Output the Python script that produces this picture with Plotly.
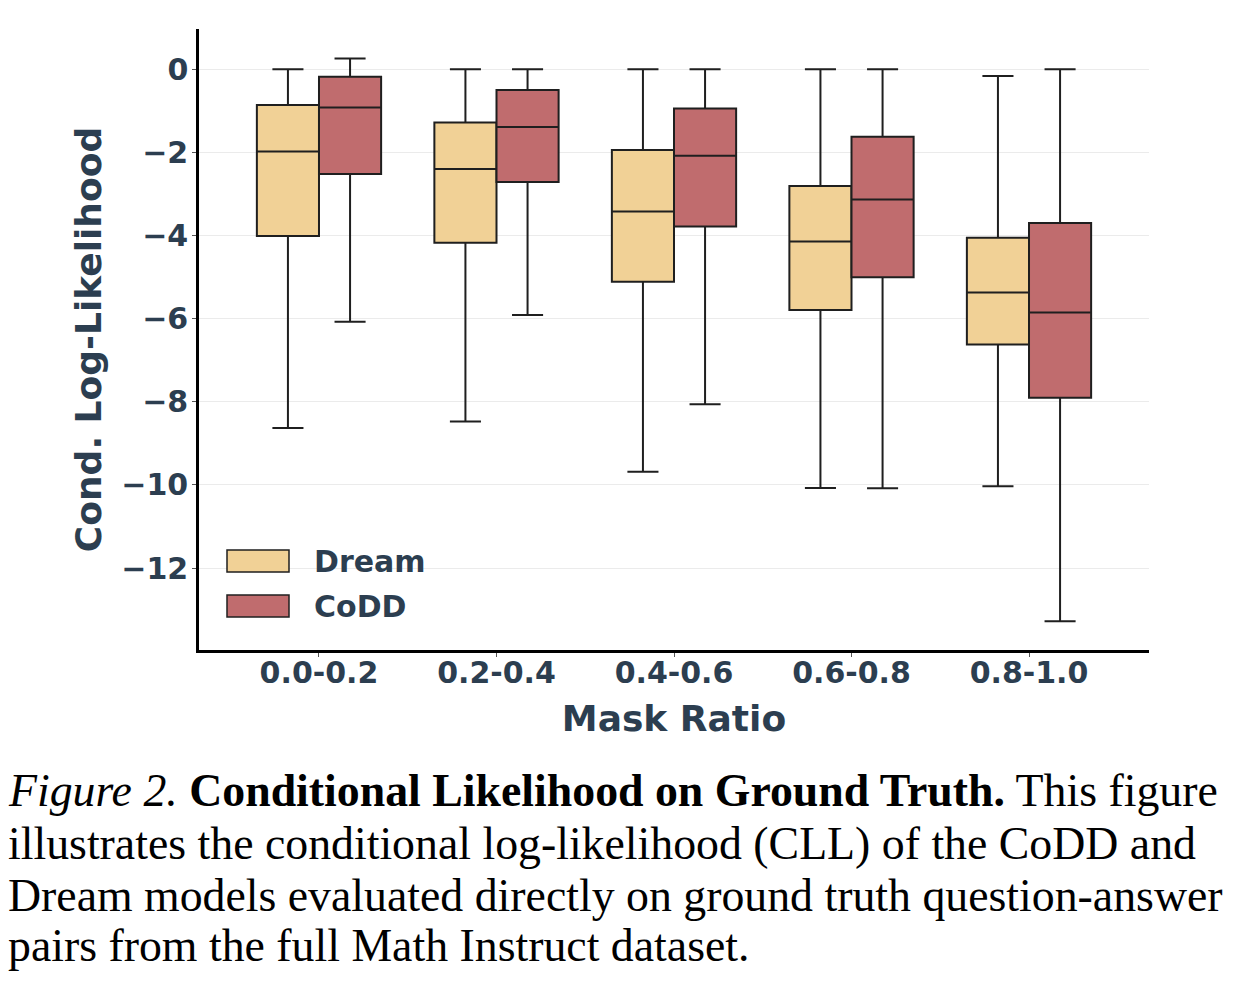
import plotly.graph_objects as go

categories = ["0.0-0.2", "0.2-0.4", "0.4-0.6", "0.6-0.8", "0.8-1.0"]

dream_upper = [0.0, 0.0, 0.0, 0.0, -0.16]
dream_q3 = [-0.86, -1.28, -1.94, -2.81, -4.05]
dream_median = [-1.98, -2.40, -3.42, -4.14, -5.37]
dream_q1 = [-4.01, -4.17, -5.11, -5.79, -6.62]
dream_lower = [-8.63, -8.47, -9.68, -10.07, -10.03]

codd_upper = [0.26, 0.0, 0.0, 0.0, 0.0]
codd_q3 = [-0.18, -0.50, -0.94, -1.62, -3.70]
codd_median = [-0.92, -1.39, -2.08, -3.13, -5.85]
codd_q1 = [-2.52, -2.71, -3.78, -5.00, -7.90]
codd_lower = [-6.07, -5.91, -8.06, -10.08, -13.28]

y_ticks = [0, -2, -4, -6, -8, -10, -12]

DREAM_FILL = "#F1D196"
CODD_FILL = "#C06C6E"
EDGE = "#1f1f1f"
TXT = "#2C3E50"

# plot-area pixel geometry
L, R, T, B = 199, 1149, 29, 650
W, H = 1238, 984


def px(xp):
    return (xp - L) / (R - L)


def py(yp):
    return (B - yp) / (B - T)


fig = go.Figure()
fig.add_trace(go.Box(
    name="Dream", x=categories, q1=dream_q1, median=dream_median, q3=dream_q3,
    lowerfence=dream_lower, upperfence=dream_upper,
    fillcolor=DREAM_FILL, line=dict(color=EDGE, width=2), whiskerwidth=0.5,
    boxpoints=False, showlegend=False, hoverinfo="y",
))
fig.add_trace(go.Box(
    name="CoDD", x=categories, q1=codd_q1, median=codd_median, q3=codd_q3,
    lowerfence=codd_lower, upperfence=codd_upper,
    fillcolor=CODD_FILL, line=dict(color=EDGE, width=2), whiskerwidth=0.5,
    boxpoints=False, showlegend=False, hoverinfo="y",
))

font_main = dict(family="DejaVu Sans", color=TXT, weight="bold")

fig.update_layout(
    width=W, height=H,
    margin=dict(l=L, r=W - R, t=T, b=H - B, autoexpand=False),
    paper_bgcolor="white", plot_bgcolor="white",
    boxmode="group", boxgap=0.3, boxgroupgap=0.0,
    showlegend=False,
)
fig.update_xaxes(
    type="category", range=[-0.676, 4.676],
    showline=True, linecolor="black", linewidth=2.5, mirror=False,
    showgrid=False, zeroline=False,
    ticks="outside", ticklen=4, tickwidth=1, tickcolor="#555555",
    tickfont=dict(size=30, **font_main), ticklabelstandoff=-10,
    title=dict(text="Mask Ratio", font=dict(size=36, **font_main), standoff=18),
    automargin=False,
)
fig.update_yaxes(
    range=[-13.97, 0.97],
    tickvals=y_ticks,
    showline=True, linecolor="black", linewidth=2.5, mirror=False,
    showgrid=True, gridcolor="#EBEBEB", gridwidth=1.2, zeroline=False,
    ticks="outside", ticklen=4, tickwidth=1, tickcolor="#555555",
    tickfont=dict(size=30, **font_main), ticklabelstandoff=-2,
    title=dict(text="Cond. Log-Likelihood", font=dict(size=36, **font_main), standoff=9),
    automargin=False,
)

# legend drawn in the plot corner
legend_items = [("Dream", DREAM_FILL, 561), ("CoDD", CODD_FILL, 606)]
for name, col, yc in legend_items:
    fig.add_shape(type="rect", xref="paper", yref="paper",
                  x0=px(227), x1=px(289), y0=py(yc + 11), y1=py(yc - 11),
                  fillcolor=col, line=dict(color=EDGE, width=1.5))
    fig.add_annotation(xref="paper", yref="paper", x=px(312), y=py(yc),
                       xanchor="left", yanchor="middle", text=name, showarrow=False,
                       font=dict(size=30, **font_main))

caption_lines = [
    "<i>Figure 2.</i> <b>Conditional Likelihood on Ground Truth.</b> This figure",
    "illustrates the conditional log-likelihood (CLL) of the CoDD and",
    "Dream models evaluated directly on ground truth question-answer",
    "pairs from the full Math Instruct dataset.",
]
caption_y = [790, 843, 895, 946]
for line, yc in zip(caption_lines, caption_y):
    fig.add_annotation(xref="paper", yref="paper", x=px(6), y=py(yc),
                       xanchor="left", yanchor="middle", text=line, showarrow=False,
                       font=dict(family="Liberation Serif, Times New Roman, serif",
                                 size=45.8, color="black"))

fig.write_html("out.html")
